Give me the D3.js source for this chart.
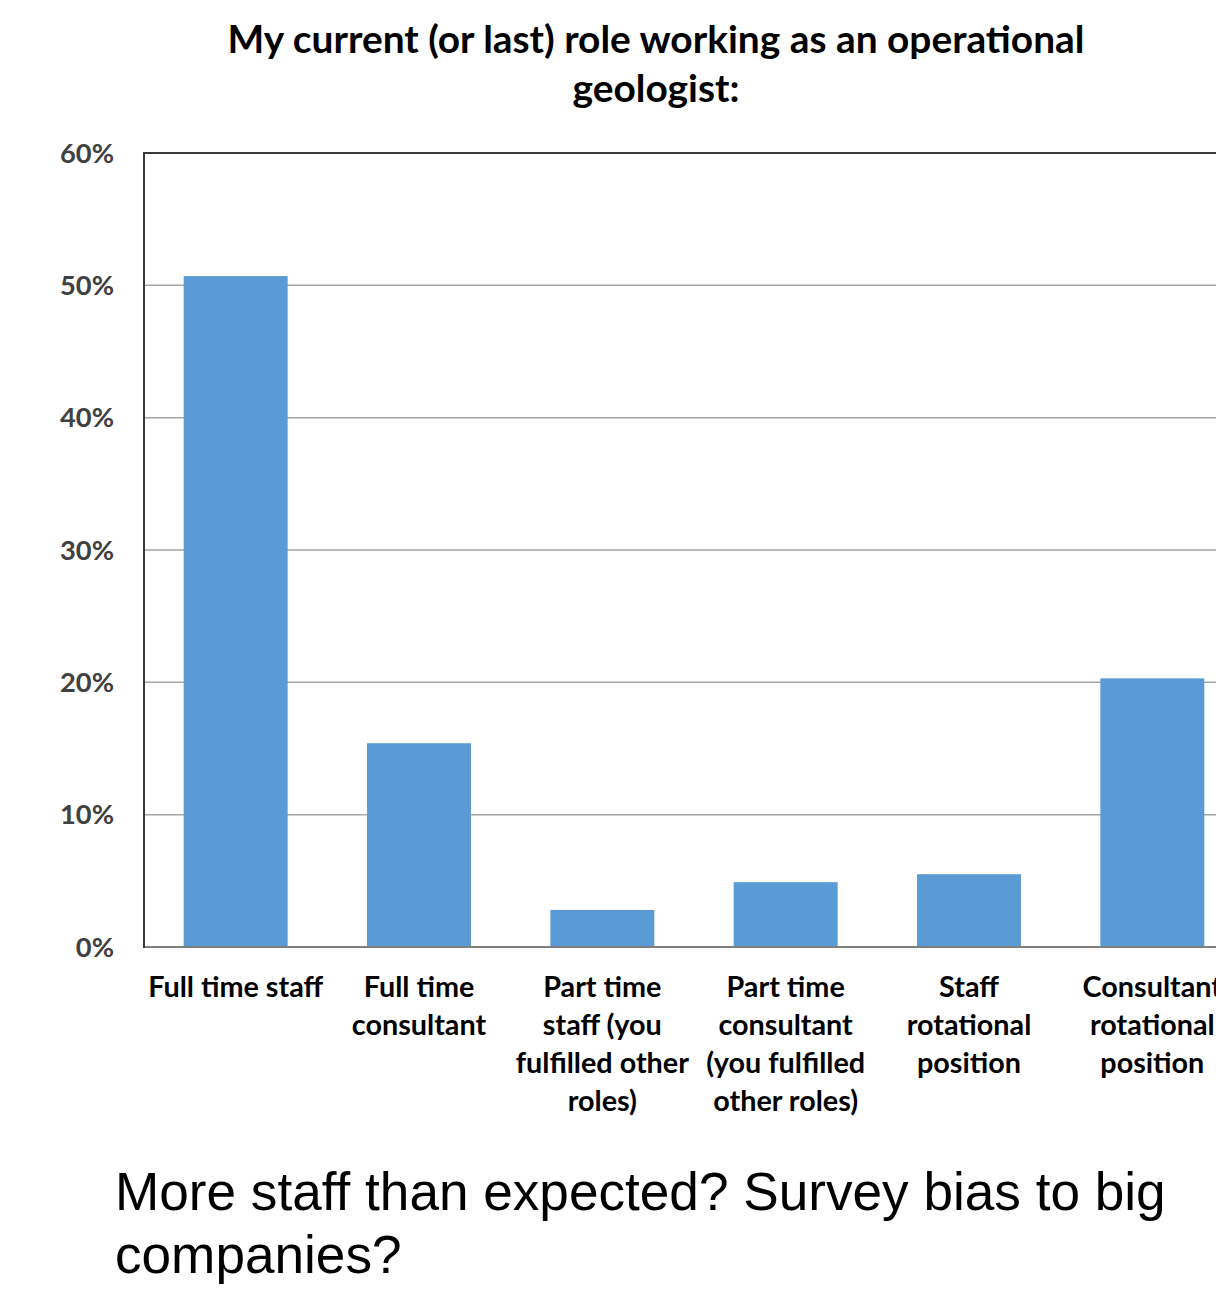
<!DOCTYPE html>
<html>
<head>
<meta charset="utf-8">
<script src="https://cdn.jsdelivr.net/npm/d3@7"></script>
<style>
  html, body { margin: 0; padding: 0; background: #fff; overflow: hidden; }
  svg { display: block; }
</style>
</head>
<body>
<svg id="chart" width="1216" height="1313"></svg>
<script>
// Survey: current (or last) operational geologist role
const titleLines = ["My current (or last) role working as an operational", "geologist:"];
const categories = [
  "Full time staff",
  "Full time\nconsultant",
  "Part time\nstaff (you\nfulfilled other\nroles)",
  "Part time\nconsultant\n(you fulfilled\nother roles)",
  "Staff\nrotational\nposition",
  "Consultant\nrotational\nposition"
];
const values = [0.507, 0.154, 0.028, 0.049, 0.055, 0.203];
const yTicks = [0, 0.1, 0.2, 0.3, 0.4, 0.5, 0.6];
const captionLines = ["More staff than expected? Survey bias to big", "companies?"];

const svg = d3.select("#chart");
const W = 1216, H = 1313;
const plot = { left: 144, right: 1244, top: 153, bottom: 947 };

const x = d3.scaleBand()
  .domain(categories)
  .range([plot.left, plot.right])
  .paddingInner(0.433)
  .paddingOuter(0.2165);

const y = d3.scaleLinear()
  .domain([0, 0.6])
  .range([plot.bottom, plot.top]);

const labelFont = "Lato, 'Open Sans', sans-serif";

// fit a text element's font size so it spans a given width
function fitSize(text, weight, family, targetWidth, guess) {
  const t = svg.append("text")
    .attr("font-family", family)
    .attr("font-weight", weight)
    .attr("font-size", guess)
    .text(text);
  const w = t.node().getComputedTextLength();
  t.remove();
  return guess * targetWidth / w;
}

// Title
const titleSize = fitSize(titleLines[0], 700, labelFont, 857, 34);
svg.append("g").selectAll("text")
  .data(titleLines)
  .join("text")
  .attr("x", 656)
  .attr("y", (d, i) => 53 + i * 49)
  .attr("text-anchor", "middle")
  .attr("font-family", labelFont)
  .attr("font-weight", 700)
  .attr("font-size", titleSize)
  .attr("fill", "#000")
  .text(d => d);

// Gridlines
svg.append("g")
  .selectAll("line")
  .data(yTicks.filter(d => d > 0 && d < 0.6))
  .join("line")
  .attr("x1", plot.left)
  .attr("x2", plot.right)
  .attr("y1", d => y(d))
  .attr("y2", d => y(d))
  .attr("stroke", "#a6a6a6")
  .attr("stroke-width", 1.5);

// Top border of the plot area
svg.append("line")
  .attr("x1", plot.left).attr("x2", plot.right)
  .attr("y1", y(0.6)).attr("y2", y(0.6))
  .attr("stroke", "#3a3a3a").attr("stroke-width", 2);

// Bars
svg.append("g")
  .selectAll("rect")
  .data(values)
  .join("rect")
  .attr("x", (d, i) => x(categories[i]))
  .attr("width", x.bandwidth())
  .attr("y", d => y(d))
  .attr("height", d => y(0) - y(d))
  .attr("fill", "#5b9bd5");

// Bottom axis
svg.append("line")
  .attr("x1", plot.left).attr("x2", plot.right)
  .attr("y1", y(0)).attr("y2", y(0))
  .attr("stroke", "#7f7f7f").attr("stroke-width", 2);

// Left axis
svg.append("line")
  .attr("x1", plot.left).attr("x2", plot.left)
  .attr("y1", y(0.6) - 1).attr("y2", y(0) + 1)
  .attr("stroke", "#3a3a3a").attr("stroke-width", 2);

// Y tick labels
const tickFmt = d3.format(".0%");
const tickSize = fitSize("60%", 700, labelFont, 54, 26);
svg.append("g")
  .selectAll("text")
  .data(yTicks)
  .join("text")
  .attr("x", 114)
  .attr("y", d => y(d))
  .attr("dy", "0.35em")
  .attr("text-anchor", "end")
  .attr("font-family", labelFont)
  .attr("font-weight", 700)
  .attr("font-size", tickSize)
  .attr("fill", "#404040")
  .text(d => tickFmt(d));

// Category labels
const catSize = fitSize("Full time staff", 700, labelFont, 175, 24);
const catG = svg.append("g")
  .selectAll("text")
  .data(categories)
  .join("text")
  .attr("x", d => x(d) + x.bandwidth() / 2)
  .attr("y", 997)
  .attr("text-anchor", "middle")
  .attr("font-family", labelFont)
  .attr("font-weight", 700)
  .attr("font-size", catSize)
  .attr("fill", "#000");
catG.selectAll("tspan")
  .data(d => d.split("\n"))
  .join("tspan")
  .attr("x", function() { return d3.select(this.parentNode).attr("x"); })
  .attr("dy", (d, i) => i === 0 ? 0 : 38)
  .text(d => d);

// Caption
const capFont = "'Liberation Sans', Arial, sans-serif";
const capSize = fitSize(captionLines[0], 400, capFont, 1051, 53);
svg.append("g").selectAll("text")
  .data(captionLines)
  .join("text")
  .attr("x", 115)
  .attr("y", (d, i) => 1210 + i * 63)
  .attr("font-family", capFont)
  .attr("font-size", capSize)
  .attr("fill", "#000")
  .text(d => d);
</script>
</body>
</html>
